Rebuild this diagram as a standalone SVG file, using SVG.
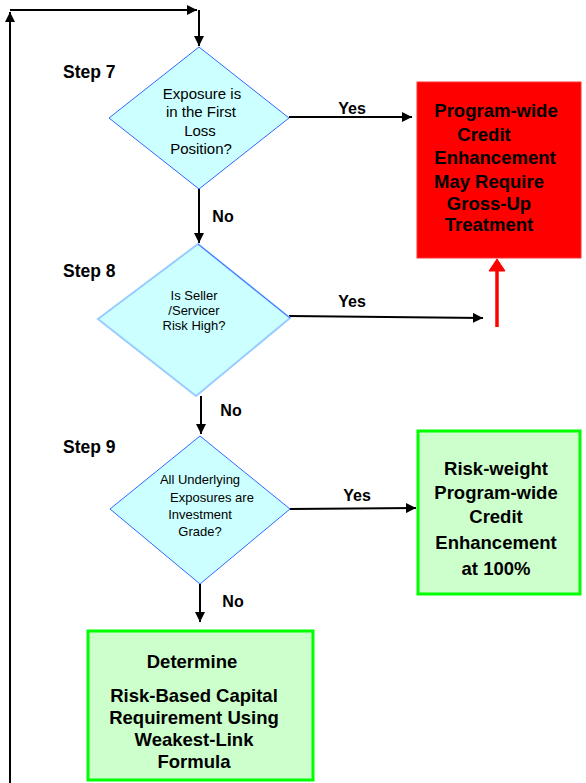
<svg xmlns="http://www.w3.org/2000/svg" width="586" height="783" viewBox="0 0 586 783">
<defs>
<marker id="ah" viewBox="0 0 10 10" refX="10" refY="5" markerWidth="10" markerHeight="10" markerUnits="userSpaceOnUse" orient="auto"><path d="M0,0 L10,5 L0,10 z" fill="#000"/></marker>
<style>
.t{font-family:"Liberation Sans",Arial,sans-serif;fill:#000}
.b{font-weight:bold}
.ln{stroke:#000;stroke-width:2;fill:none}
.dia{fill:#ccffff;stroke:#3366ff;stroke-width:1}
.gbox{fill:#ccffcc;stroke:#00ff00;stroke-width:3}
</style>
</defs>
<rect width="586" height="783" fill="#fff"/>
<g id="connectors">
<path class="ln" d="M10,783 L10,12" marker-end="url(#ah)"/>
<path class="ln" d="M10,10 L197,10" marker-end="url(#ah)"/>
<path class="ln" d="M199,10 L199,46" marker-end="url(#ah)"/>
<path class="ln" d="M289,117 L412,117" marker-end="url(#ah)"/>
<path class="ln" d="M199,189 L199,243" marker-end="url(#ah)"/>
<path class="ln" d="M289,316 L483,318" marker-end="url(#ah)"/>
<path d="M497,327 L497,268" stroke="#ff0000" stroke-width="3.5" fill="none"/>
<path d="M489,271 L497,259 L505,271 z" fill="#ff0000" stroke="#ff0000" stroke-width="1"/>
<path class="ln" d="M201,396 L201,434" marker-end="url(#ah)"/>
<path class="ln" d="M290,509 L416,508" marker-end="url(#ah)"/>
<path class="ln" d="M200,584 L200,622" marker-end="url(#ah)"/>
<text class="t b" x="352" y="114" font-size="16" text-anchor="middle">Yes</text>
<text class="t b" x="223" y="222" font-size="16" text-anchor="middle">No</text>
<text class="t b" x="352" y="307" font-size="16" text-anchor="middle">Yes</text>
<text class="t b" x="231" y="416" font-size="16" text-anchor="middle">No</text>
<text class="t b" x="357" y="501" font-size="16" text-anchor="middle">Yes</text>
<text class="t b" x="233" y="607" font-size="16" text-anchor="middle">No</text>
</g>
<g id="step7">
<text class="t b" x="63" y="78" font-size="17.5">Step 7</text>
</g>
<g id="step8">
<text class="t b" x="63" y="277" font-size="17.5">Step 8</text>
</g>
<g id="step9">
<text class="t b" x="63" y="453" font-size="17.5">Step 9</text>
</g>
<g id="decision1">
<polygon class="dia" points="199,47 289,118 199,189 109,118"/>
<text class="t" font-size="15" text-anchor="middle"><tspan x="202" y="99">Exposure is</tspan><tspan x="201" y="117">in the First</tspan><tspan x="200" y="136">Loss</tspan><tspan x="201" y="154">Position?</tspan></text>
</g>
<g id="decision2">
<polygon points="198,244 290,318 196,396 98,319" fill="#ccffff" stroke="#99ccff" stroke-width="2"/>
<line x1="198" y1="244" x2="290" y2="318" stroke="#3366ff" stroke-width="1"/>
<text class="t" font-size="13" text-anchor="middle"><tspan x="194" y="300">Is Seller</tspan><tspan x="194" y="315">/Servicer</tspan><tspan x="194" y="330">Risk High?</tspan></text>
</g>
<g id="decision3">
<polygon class="dia" points="200,436 290,509 200,584 110,509"/>
<text class="t" font-size="13" text-anchor="middle"><tspan x="200" y="484">All Underlying</tspan><tspan x="212" y="502">Exposures are</tspan><tspan x="200" y="519">Investment</tspan><tspan x="200" y="536">Grade?</tspan></text>
</g>
<g id="grossup">
<rect x="417" y="82" width="164" height="176" fill="#ff0000" stroke="#ff3333" stroke-width="1"/>
<text class="t b" font-size="18.5" text-anchor="middle"><tspan x="496" y="117">Program-wide</tspan><tspan x="484" y="141">Credit</tspan><tspan x="495" y="164">Enhancement</tspan><tspan x="489" y="188">May Require</tspan><tspan x="489" y="210">Gross-Up</tspan><tspan x="489" y="231">Treatment</tspan></text>
</g>
<g id="riskweight">
<rect class="gbox" x="418" y="431" width="162" height="163"/>
<text class="t b" font-size="18.5" text-anchor="middle"><tspan x="496" y="475">Risk-weight</tspan><tspan x="496" y="499">Program-wide</tspan><tspan x="496" y="523">Credit</tspan><tspan x="496" y="549">Enhancement</tspan><tspan x="496" y="575">at 100%</tspan></text>
</g>
<g id="weakestlink">
<rect class="gbox" x="88" y="631" width="225" height="149"/>
<text class="t b" font-size="18.5" text-anchor="middle"><tspan x="192" y="668">Determine</tspan><tspan x="194" y="702">Risk-Based Capital</tspan><tspan x="194" y="724">Requirement Using</tspan><tspan x="194" y="746">Weakest-Link</tspan><tspan x="194" y="768">Formula</tspan></text>
</g>
</svg>
